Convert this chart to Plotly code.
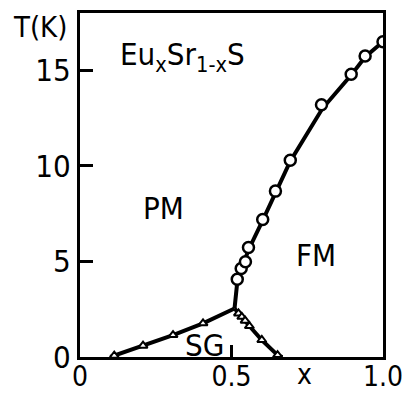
import plotly.graph_objects as go

# --- data ---
# PM-FM boundary, circles
fm_x = [0.519, 0.532, 0.546, 0.556, 0.603, 0.645, 0.694, 0.797, 0.895, 0.941, 1.0]
fm_T = [4.07, 4.63, 4.98, 5.73, 7.2, 8.68, 10.3, 13.2, 14.8, 15.75, 16.5]
# PM-SG boundary, triangles
sg_x = [0.113, 0.208, 0.307, 0.406]
sg_T = [0.07, 0.59, 1.15, 1.76]
# SG-FM boundary, triangles
sgfm_x = [0.523, 0.534, 0.545, 0.559, 0.600, 0.652]
sgfm_T = [2.28, 2.10, 1.90, 1.62, 0.89, 0.10]

# boundary curves (drawn lines)
line_pmfm_x = [0.51, 0.52, 0.535, 0.556, 0.603, 0.645, 0.694, 0.80, 0.895, 0.941, 1.0]
line_pmfm_T = [2.54, 4.07, 4.7, 5.6, 7.15, 8.6, 10.25, 13.0, 14.75, 15.7, 16.5]
line_pmsg_x = [0.10, 0.113, 0.208, 0.307, 0.406, 0.51]
line_pmsg_T = [0.0, 0.07, 0.6, 1.15, 1.76, 2.54]
line_sgfm_x = [0.51, 0.523, 0.559, 0.600, 0.652, 0.668]
line_sgfm_T = [2.54, 2.28, 1.62, 0.89, 0.10, 0.0]

x_ticks = [0, 0.5, 1.0]
x_ticklabels = ["0", "0.5", "1.0"]
y_ticks = [0, 5, 10, 15]
y_ticklabels = ["0", "5", "10", "15"]

FONT = "Liberation Sans Narrow, DejaVu Sans Condensed, Liberation Sans, sans-serif"

fig = go.Figure()
for lx, ly in [(line_pmfm_x, line_pmfm_T), (line_pmsg_x, line_pmsg_T), (line_sgfm_x, line_sgfm_T)]:
    fig.add_trace(go.Scatter(x=lx, y=ly, mode="lines",
                             line=dict(color="black", width=4),
                             hoverinfo="skip", showlegend=False))

fig.add_trace(go.Scatter(x=fm_x, y=fm_T, mode="markers", showlegend=False,
                         marker=dict(symbol="circle", size=11, color="white",
                                     line=dict(color="black", width=2.5))))
fig.add_trace(go.Scatter(x=sg_x + sgfm_x, y=sg_T + sgfm_T, mode="markers", showlegend=False,
                         marker=dict(symbol="triangle-up", size=8, color="white",
                                     line=dict(color="black", width=2))))

ann_font = dict(family=FONT, size=31, color="black")
fig.add_annotation(x=0.125, y=15.7, xanchor="left", yanchor="middle",
                   text="Eu<sub>x</sub>Sr<sub>1-x</sub>S", showarrow=False, font=ann_font)
fig.add_annotation(x=0.274, y=7.8, xanchor="center", yanchor="middle",
                   text="PM", showarrow=False, font=ann_font)
fig.add_annotation(x=0.779, y=5.34, xanchor="center", yanchor="middle",
                   text="FM", showarrow=False, font=ann_font)
fig.add_annotation(x=0.41, y=0.63, xanchor="center", yanchor="middle",
                   text="SG", showarrow=False, font=ann_font)
fig.add_annotation(xref="paper", yref="paper", x=-0.132, y=0.959,
                   xanchor="center", yanchor="middle",
                   text="T(K)", showarrow=False, font=dict(family=FONT, size=29, color="black"))
fig.add_annotation(x=0.74, xref="x", yref="paper", y=-0.05, xanchor="center", yanchor="middle",
                   text="x", showarrow=False, font=dict(family=FONT, size=28, color="black"))

axis_common = dict(showline=True, linecolor="black", linewidth=3, mirror=True,
                   showgrid=False, zeroline=False, ticks="inside", tickcolor="black",
                   tickwidth=3, automargin=False, ticklabeloverflow="allow")
fig.update_xaxes(range=[0, 1.0], tickvals=x_ticks, ticktext=x_ticklabels, ticklen=12,
                 ticklabelstandoff=-8,
                 tickfont=dict(family=FONT, size=28, color="black"), **axis_common)
fig.update_yaxes(range=[0, 18], tickvals=y_ticks, ticktext=y_ticklabels, ticklen=13,
                 tickfont=dict(family=FONT, size=31, color="black"), **axis_common)

fig.update_layout(width=403, height=394, margin=dict(l=80, r=20, t=13, b=37),
                  paper_bgcolor="white", plot_bgcolor="white", showlegend=False)

fig.write_html("out.html")
